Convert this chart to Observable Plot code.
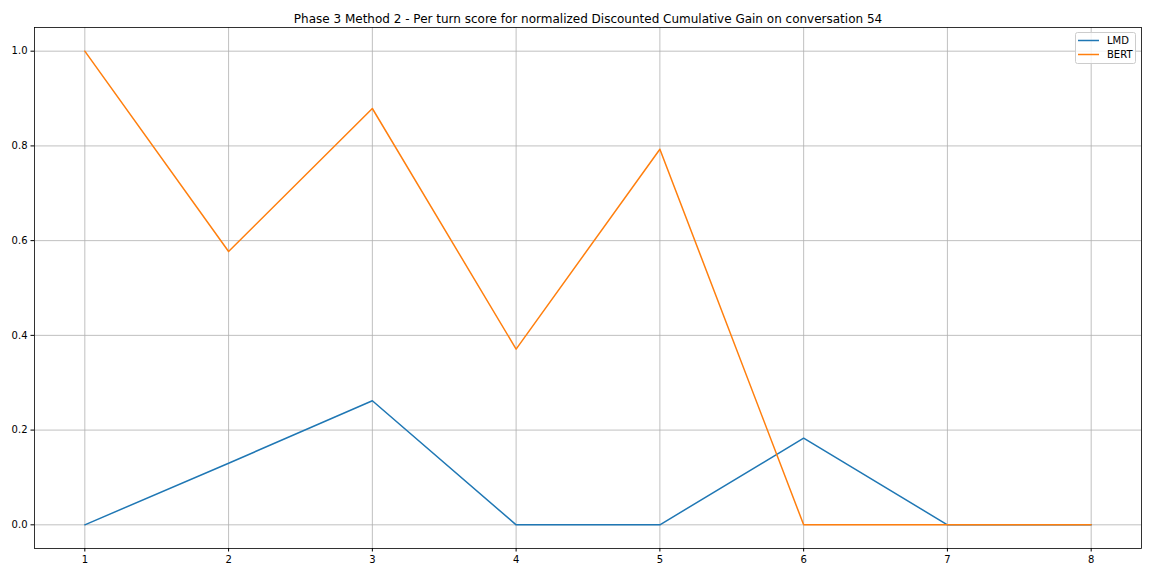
<!DOCTYPE html>
<html>
<head>
<meta charset="utf-8">
<script src="https://cdn.jsdelivr.net/npm/d3@7"></script>
<script src="https://cdn.jsdelivr.net/npm/@observablehq/plot@0.6"></script>
<style>
  html, body { margin: 0; padding: 0; background: #fff; }
  #wrap { position: relative; width: 1152px; height: 576px; font-family: "DejaVu Sans", sans-serif; }
  #legend { position: absolute; left: 1075px; top: 32px; }
</style>
</head>
<body>
<div id="wrap"></div>
<script>
const title = "Phase 3 Method 2 - Per turn score for normalized Discounted Cumulative Gain on conversation 54";
const turns = [1, 2, 3, 4, 5, 6, 7, 8];
const lmd = [0, 0.130, 0.262, 0, 0, 0.183, 0, 0];
const bert = [1.0, 0.577, 0.879, 0.371, 0.793, 0, 0, 0];
const seriesNames = ["LMD", "BERT"];
const seriesColors = ["#1f77b4", "#ff7f0e"];
const yTicks = [0, 0.2, 0.4, 0.6, 0.8, 1.0];

const rows = [];
turns.forEach((t, i) => rows.push({turn: t, value: lmd[i], series: "LMD"}));
turns.forEach((t, i) => rows.push({turn: t, value: bert[i], series: "BERT"}));

const chart = Plot.plot({
  width: 1152,
  height: 576,
  marginTop: 27,
  marginLeft: 34,
  marginRight: 11,
  marginBottom: 28,
  style: {fontFamily: "DejaVu Sans, sans-serif", fontSize: "10px", background: "#fff", color: "#000"},
  x: {domain: [0.65, 8.35]},
  y: {domain: [-0.05, 1.05]},
  color: {domain: seriesNames, range: seriesColors},
  marks: [
    Plot.gridX(turns, {stroke: "#b0b0b0", strokeOpacity: 1, strokeWidth: 0.8}),
    Plot.gridY(yTicks, {stroke: "#b0b0b0", strokeOpacity: 1, strokeWidth: 0.8}),
    Plot.axisX(turns, {tickSize: 3.5, tickPadding: 3.5, label: null, tickFormat: d => String(d), fontSize: 10}),
    Plot.axisY(yTicks, {tickSize: 3.5, tickPadding: 3.5, label: null, tickFormat: d3.format(".1f"), fontSize: 10}),
    Plot.lineY(rows.filter(d => d.series === "LMD"), {x: "turn", y: "value", stroke: "series", strokeWidth: 1.5}),
    Plot.lineY(rows.filter(d => d.series === "BERT"), {x: "turn", y: "value", stroke: "series", strokeWidth: 1.5}),
    Plot.frame({stroke: "#000", strokeWidth: 0.8}),
    Plot.text([title], {frameAnchor: "top", dy: -13, fontSize: 12, fill: "#000"})
  ]
});
const wrap = document.getElementById("wrap");
wrap.appendChild(chart);

// Legend (HTML-positioned SVG)
const lg = d3.select(wrap).append("svg").attr("id", "legend")
  .attr("width", 62).attr("height", 34)
  .style("font-family", "DejaVu Sans, sans-serif").style("font-size", "10px");
lg.append("rect").attr("x", 0.5).attr("y", 0.5).attr("width", 60).attr("height", 31).attr("rx", 2)
  .attr("fill", "#fff").attr("fill-opacity", 0.8).attr("stroke", "#cccccc");
seriesNames.forEach((name, i) => {
  const cy = 8.5 + i * 14;
  lg.append("line").attr("x1", 3).attr("x2", 24).attr("y1", cy).attr("y2", cy)
    .attr("stroke", seriesColors[i]).attr("stroke-width", 1.5);
  lg.append("text").attr("x", 32).attr("y", cy).attr("dy", "0.35em").attr("fill", "#000").text(name);
});
</script>
</body>
</html>
